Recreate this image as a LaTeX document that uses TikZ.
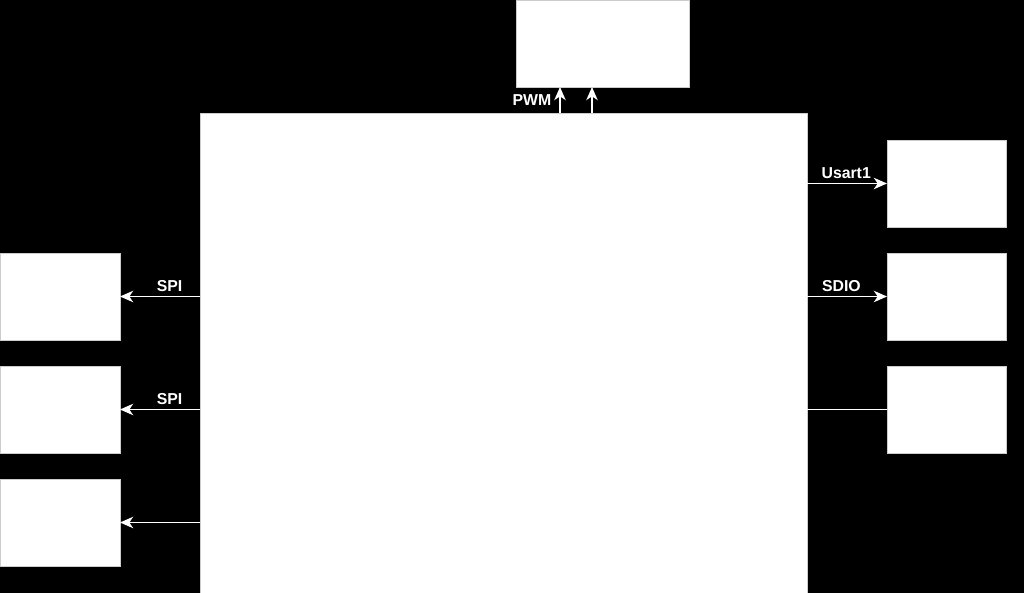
\documentclass[tikz,border=0pt]{standalone}
\usepackage{fontspec}
\setmainfont{Liberation Sans}
\usetikzlibrary{arrows.meta}
\begin{document}
\begin{tikzpicture}[inner sep=0pt,outer sep=0pt,line width=0.9pt,
devblock/.style={draw=gray!40,fill=white,rectangle,line width=0.4pt,minimum height=1.74cm},
sig/.style={white,-{Stealth[length=7.5pt,width=6.5pt,inset=2.2pt]}},
siglabel/.style={text=white,font=\fontsize{9}{10}\selectfont\bfseries}]
\fill[black] (0,0) rectangle (20.48,11.86);
\useasboundingbox (0,0) rectangle (20.48,11.86);
\draw (10.07,4.80) node[devblock,minimum width=12.14cm,minimum height=9.60cm] (mcu) {};
\draw (12.05,10.99) node[devblock,minimum width=3.46cm] (pwm) {};
\draw (18.93,8.19) node[devblock,minimum width=2.38cm] (r1) {};
\draw (18.93,5.93) node[devblock,minimum width=2.38cm] (r2) {};
\draw (18.93,3.67) node[devblock,minimum width=2.38cm] (r3) {};
\draw (1.20,5.93) node[devblock,minimum width=2.40cm] (l1) {};
\draw (1.20,3.67) node[devblock,minimum width=2.40cm] (l2) {};
\draw (1.20,1.41) node[devblock,minimum width=2.40cm] (l3) {};
\coordinate (pwmA) at ([xshift=0.88cm]pwm.south west);
\coordinate (pwmB) at ([xshift=1.52cm]pwm.south west);
\draw[sig] (mcu.north -| pwmA) -- node[siglabel,left=5pt] {PWM} (pwmA);
\draw[sig] (mcu.north -| pwmB) -- (pwmB);
\draw[sig] (mcu.east |- r1) -- node[siglabel,pos=0.49,above=3pt] {Usart1} (r1.west);
\draw[sig] (mcu.east |- r2) -- node[siglabel,pos=0.43,above=3pt] {SDIO} (r2.west);
\draw[white] (mcu.east |- r3) -- (r3.west);
\draw[sig] (mcu.west |- l1) -- node[siglabel,pos=0.38,above=3pt] {SPI} (l1.east);
\draw[sig] (mcu.west |- l2) -- node[siglabel,pos=0.38,above=3pt] {SPI} (l2.east);
\draw[sig] (mcu.west |- l3) -- (l3.east);
\end{tikzpicture}
\end{document}
